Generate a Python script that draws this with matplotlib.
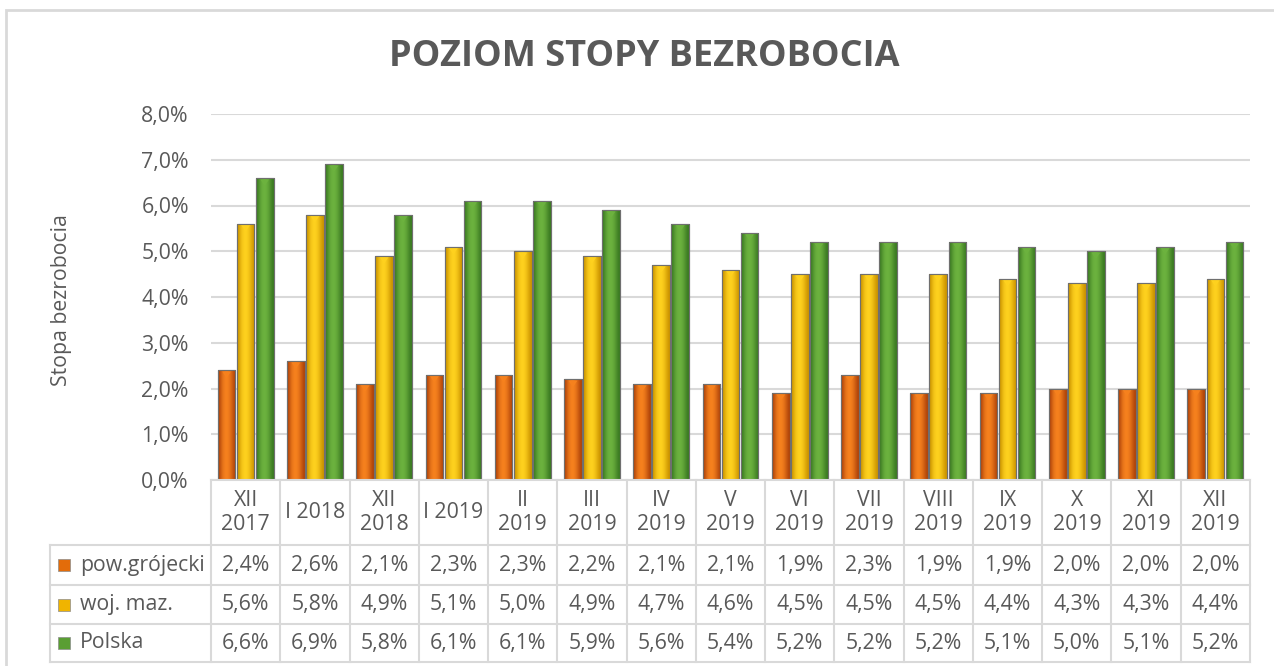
import numpy as np
import matplotlib
matplotlib.use("Agg")
import matplotlib.pyplot as plt
from matplotlib.patches import Rectangle
from matplotlib.colors import LinearSegmentedColormap

plt.rcParams['font.family'] = ['Open Sans', 'DejaVu Sans']

# data
periods = ["XII\n2017", "I 2018", "XII\n2018", "I 2019", "II\n2019", "III\n2019",
           "IV\n2019", "V\n2019", "VI\n2019", "VII\n2019", "VIII\n2019", "IX\n2019",
           "X\n2019", "XI\n2019", "XII\n2019"]
pow_grojecki = [2.4, 2.6, 2.1, 2.3, 2.3, 2.2, 2.1, 2.1, 1.9, 2.3, 1.9, 1.9, 2.0, 2.0, 2.0]
woj_maz = [5.6, 5.8, 4.9, 5.1, 5.0, 4.9, 4.7, 4.6, 4.5, 4.5, 4.5, 4.4, 4.3, 4.3, 4.4]
polska = [6.6, 6.9, 5.8, 6.1, 6.1, 5.9, 5.6, 5.4, 5.2, 5.2, 5.2, 5.1, 5.0, 5.1, 5.2]
series_names = ["pow.grójecki", "woj. maz.", "Polska"]
yticks = [0, 1, 2, 3, 4, 5, 6, 7, 8]

# (dark edge, light centre) per series
shades = [("#B0440A", "#F7821E"), ("#CC9400", "#FFD21F"), ("#3B7A22", "#6DB33F")]
key_colors = ["#E36C0A", "#F0B400", "#5A9E33"]
text_col = "#595959"
line_col = "#D9D9D9"
fs = 15.3

W, H = 1274, 666
fig = plt.figure(figsize=(W / 100, H / 100), dpi=100)

# outer chart frame
fig.patches.append(Rectangle((6 / W, -0.05), 1.2, 1 - 10 / H + 0.05,
                             transform=fig.transFigure, fill=False,
                             edgecolor=line_col, lw=2))

fig.text(644 / W, 1 - 57 / H, "POZIOM STOPY BEZROBOCIA", ha="center", va="center",
         fontsize=26, fontweight="bold", color=text_col)

left, right = 211 / W, 1250 / W
y0, y8 = 1 - 480 / H, 1 - 114 / H
ax = fig.add_axes([left, y0, right - left, y8 - y0])
n = len(periods)
ax.set_xlim(-0.5, n - 0.5)
ax.set_ylim(0, 8)
ax.set_yticks(yticks)
ax.set_yticklabels([f"{v:.1f}%".replace(".", ",") for v in yticks])
ax.tick_params(axis="y", length=0, pad=16, labelsize=fs, labelcolor=text_col)
ax.set_xticks([])
for s in ax.spines.values():
    s.set_visible(False)
ax.grid(axis="y", color=line_col, lw=1.5)
ax.set_axisbelow(True)
fig.text(62 / W, 1 - 300 / H, "Stopa bezrobocia", rotation=90, ha="center",
         va="center", fontsize=fs, color=text_col)

x = np.arange(n)
offsets = [-0.275, 0.0, 0.275]
bw = 0.255
grad = np.array([0.0, 0.35, 0.7, 0.9, 1.0, 0.95, 0.8, 0.55, 0.25, 0.0])[None, :]
for vals, off, (dark, light) in zip([pow_grojecki, woj_maz, polska], offsets, shades):
    cmap = LinearSegmentedColormap.from_list("g", [dark, light])
    bars = ax.bar(x + off, vals, width=bw, color=dark, edgecolor="#6f6f6f",
                  linewidth=0.8, zorder=2)
    for b in bars:
        bx, by = b.get_x(), b.get_height()
        im = ax.imshow(grad, cmap=cmap, aspect="auto", vmin=0, vmax=1,
                       extent=(bx, bx + bw, 0, by), zorder=2.5, interpolation="bicubic")
        im.set_clip_path(b)
        # small bevel tip at the top of the bar
        ax.fill([bx + bw * 0.25, bx + bw * 0.75, bx + bw * 0.5],
                [by - 0.03, by - 0.03, by - 0.17], color=light, alpha=0.9,
                zorder=3, lw=0)
        ax.bar(bx + bw / 2, by, width=bw, fill=False, edgecolor="#6f6f6f",
               linewidth=0.8, zorder=3.5)
ax.set_xlim(-0.5, n - 0.5)
ax.set_ylim(0, 8)

# data table below the chart
tb = 4 / H
tax = fig.add_axes([left, tb, right - left, y0 - tb])
tax.set_xlim(-0.5, n - 0.5)
tax.set_ylim(182, 0)
tax.axis("off")
rows = [0, 65, 105, 144, 182]
col_w = (n) / (1250 - 211)  # data units per pixel
lab_left = -0.5 - (211 - 50) * col_w
kw = dict(color=line_col, lw=1.5, clip_on=False)
for i in range(n + 1):
    tax.plot([i - 0.5, i - 0.5], [rows[0], rows[-1]], **kw)
tax.plot([lab_left, lab_left], [rows[1], rows[-1]], **kw)
tax.plot([-0.5, n - 0.5], [rows[0], rows[0]], **kw)
for r in rows[1:]:
    tax.plot([lab_left, n - 0.5], [r, r], **kw)

for i, p in enumerate(periods):
    tax.text(i, (rows[0] + rows[1]) / 2, p, ha="center", va="center", fontsize=fs,
             color=text_col, linespacing=1.15)
for k, (name, vals) in enumerate(zip(series_names, [pow_grojecki, woj_maz, polska])):
    yc = (rows[k + 1] + rows[k + 2]) / 2
    kx = lab_left + 8 * col_w
    tax.add_patch(Rectangle((kx, yc - 6), 12 * col_w, 12, facecolor=key_colors[k],
                            edgecolor="#8c8c8c", lw=0.5, clip_on=False))
    tax.text(kx + 22 * col_w, yc, name, ha="left", va="center", fontsize=fs,
             color=text_col, clip_on=False)
    for i, v in enumerate(vals):
        tax.text(i, yc, f"{v:.1f}%".replace(".", ","), ha="center", va="center",
                 fontsize=fs, color=text_col)

fig.savefig("out.png", dpi=100)
